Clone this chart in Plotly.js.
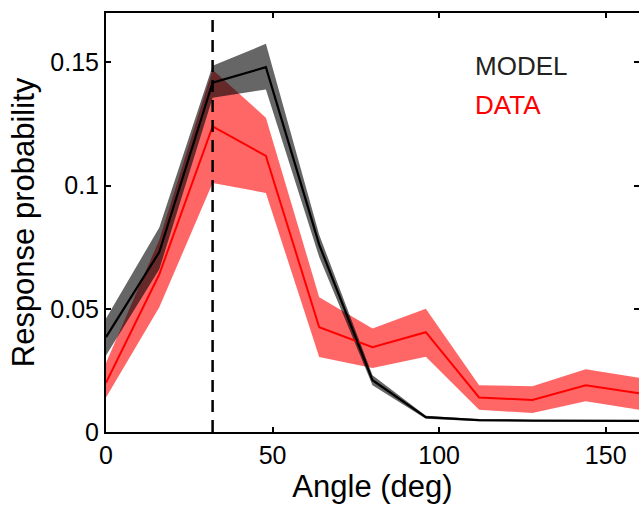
<!DOCTYPE html>
<html><head><meta charset="utf-8">
<script src="https://cdn.plot.ly/plotly-3.0.1.min.js"></script>
<style>html,body{margin:0;padding:0;background:#fff}#chart{width:639px;height:505px}</style>
</head><body><div id="chart"></div>
<script>
var angles = [0, 16, 32, 48, 64, 80, 96, 112, 128, 144, 160];
var modelMean  = [0.0385, 0.073, 0.1417, 0.148, 0.076, 0.021, 0.006, 0.0048, 0.0046, 0.0045, 0.0045];
var modelUpper = [0.046, 0.083, 0.1486, 0.1575, 0.080, 0.023, 0.0066, 0.0052, 0.0049, 0.0048, 0.0048];
var modelLower = [0.031, 0.066, 0.1356, 0.139, 0.071, 0.019, 0.0054, 0.0044, 0.0043, 0.0042, 0.0042];
var dataMean  = [0.020, 0.064, 0.124, 0.112, 0.0425, 0.0344, 0.0405, 0.014, 0.013, 0.019, 0.0157];
var dataUpper = [0.028, 0.078, 0.147, 0.1275, 0.0547, 0.042, 0.050, 0.019, 0.0186, 0.0255, 0.022];
var dataLower = [0.014, 0.0506, 0.101, 0.097, 0.0304, 0.026, 0.0305, 0.009, 0.0077, 0.0125, 0.009];
var prefAngle = 32;
var xTicks = [0, 50, 100, 150];
var yTicks = [0, 0.05, 0.1, 0.15];

function band(upper, lower, color) {
  return {
    x: angles.concat(angles.slice().reverse()),
    y: upper.concat(lower.slice().reverse()),
    fill: 'toself', fillcolor: color, mode: 'lines',
    line: {width: 0}, hoverinfo: 'skip', showlegend: false
  };
}
var traces = [
  band(dataUpper, dataLower, 'rgba(255,0,0,0.6)'),
  band(modelUpper, modelLower, 'rgba(0,0,0,0.6)'),
  {x: angles, y: dataMean, mode: 'lines', line: {color: '#ff0000', width: 2}, showlegend: false},
  {x: angles, y: modelMean, mode: 'lines', line: {color: '#000000', width: 2.2}, showlegend: false}
];
var font = 'Liberation Sans, Arial, Helvetica, sans-serif';
var layout = {
  width: 639, height: 505,
  margin: {l: 106, r: 0, t: 13, b: 73},
  paper_bgcolor: '#fff', plot_bgcolor: '#fff',
  font: {family: font, color: '#000', size: 25},
  xaxis: {
    range: [0, 160], tickvals: xTicks, ticks: 'inside', ticklen: 5, tickwidth: 2, tickcolor: '#000',
    showline: true, linecolor: '#000', linewidth: 2, mirror: 'ticks', showgrid: false, zeroline: false,
    tickfont: {size: 25, family: font},
    title: {text: 'Angle (deg)', font: {size: 31, family: font}, standoff: 5}
  },
  yaxis: {
    range: [0, 0.17], tickvals: yTicks, ticktext: ['0', '0.05', '0.1', '0.15'], ticks: 'inside', ticklen: 5, tickwidth: 2, tickcolor: '#000',
    showline: true, linecolor: '#000', linewidth: 2, mirror: 'ticks', showgrid: false, zeroline: false,
    tickfont: {size: 25, family: font},
    title: {text: 'Response probability', font: {size: 31, family: font}, standoff: 6}
  },
  shapes: [{type: 'line', xref: 'x', yref: 'paper', x0: prefAngle, x1: prefAngle, y0: 0, y1: 1,
            line: {color: '#000', width: 2.5, dash: '12px,8px'}}],
  annotations: [
    {xref: 'x', yref: 'y', x: 110.3, y: 0.1485, text: 'MODEL', showarrow: false, xanchor: 'left', yanchor: 'middle',
     font: {size: 26, family: font, color: '#222'}},
    {xref: 'x', yref: 'y', x: 110.3, y: 0.1325, text: 'DATA', showarrow: false, xanchor: 'left', yanchor: 'middle',
     font: {size: 26, family: font, color: '#ff0000'}}
  ]
};
Plotly.newPlot('chart', traces, layout, {displayModeBar: false, staticPlot: true});
</script></body></html>
